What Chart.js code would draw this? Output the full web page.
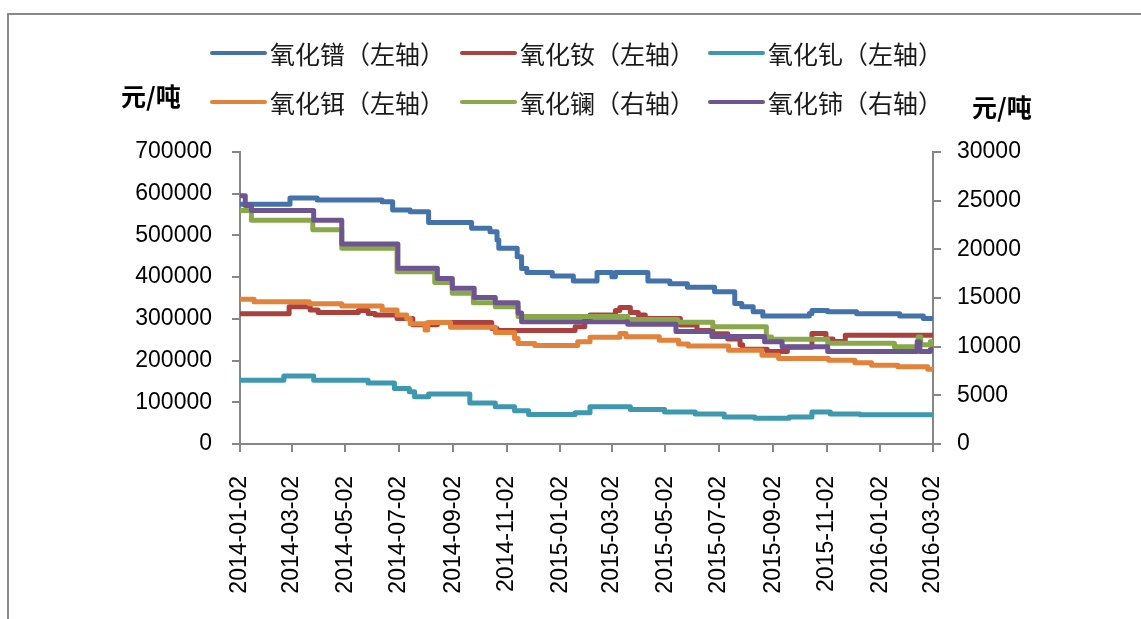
<!DOCTYPE html>
<html>
<head>
<meta charset="utf-8">
<script src="https://cdn.jsdelivr.net/npm/chart.js@4.4.0/dist/chart.umd.min.js"></script>
<style>
  html, body { margin: 0; padding: 0; background: #fff; overflow: hidden; }
  #frame { position: absolute; left: 7px; top: 13px; width: 1200px; height: 700px; border: 2px solid #898989; }
  #wrap { position: absolute; left: 0; top: 0; width: 1141px; height: 619px; }
</style>
</head>
<body>
<div id="frame"></div>
<div id="wrap"><canvas id="chart" width="1141" height="619"></canvas></div>
<script>
// tick labels on the date axis
const xTickLabels = ['2014-01-02', '2014-03-02', '2014-05-02', '2014-07-02', '2014-09-02', '2014-11-02',
  '2015-01-02', '2015-03-02', '2015-05-02', '2015-07-02', '2015-09-02', '2015-11-02', '2016-01-02', '2016-03-02'];

const seriesNames = ['氧化镨（左轴）', '氧化钕（左轴）', '氧化钆（左轴）', '氧化铒（左轴）', '氧化镧（右轴）', '氧化铈（右轴）'];

// price change points (date the price starts, 元/吨)
const prDates = ['2014-01-02', '2014-02-28', '2014-03-31', '2014-06-13', '2014-06-25', '2014-07-15', '2014-08-05',
  '2014-09-23', '2014-10-14', '2014-10-22', '2014-10-24', '2014-11-14', '2014-11-19', '2014-11-25', '2014-12-24',
  '2015-01-17', '2015-02-13', '2015-03-02', '2015-03-06', '2015-04-12', '2015-05-07', '2015-05-27', '2015-06-27',
  '2015-07-20', '2015-07-28', '2015-08-10', '2015-08-21', '2015-10-13', '2015-10-16', '2015-11-03', '2015-12-06',
  '2016-01-24', '2016-02-20'];
const prValues = [575000, 590000, 585000, 581000, 561000, 557000, 531000, 517000, 509000, 489000, 469000, 449000,
  421000, 411000, 403000, 391000, 411000, 401000, 411000, 391000, 384000, 376000, 365000, 337000, 329000, 317000,
  307000, 313000, 320000, 317000, 312000, 307000, 301000];

const ndDates = ['2014-01-02', '2014-02-27', '2014-03-23', '2014-04-01', '2014-05-17', '2014-05-28', '2014-06-05',
  '2014-06-30', '2014-07-18', '2014-08-15', '2014-10-16', '2014-10-22', '2015-01-19', '2015-01-30', '2015-02-05',
  '2015-03-06', '2015-03-11', '2015-03-23', '2015-04-01', '2015-04-09', '2015-05-19', '2015-06-07', '2015-06-25',
  '2015-07-12', '2015-07-26', '2015-07-29', '2015-08-26', '2015-09-18', '2015-10-16', '2015-11-01', '2015-11-09',
  '2015-11-23'];
const ndValues = [312000, 329000, 321000, 315000, 320000, 313000, 309000, 301000, 286000, 291000, 277000, 272000,
  281000, 297000, 309000, 320000, 327000, 315000, 309000, 301000, 285000, 272000, 264000, 252000, 238000, 227000,
  222000, 232000, 265000, 252000, 246000, 261000];

const gdDates = ['2014-01-02', '2014-02-21', '2014-03-27', '2014-05-28', '2014-06-27', '2014-07-14', '2014-07-20',
  '2014-08-05', '2014-09-21', '2014-10-20', '2014-11-11', '2014-11-27', '2015-01-19', '2015-02-05', '2015-03-23',
  '2015-05-01', '2015-06-05', '2015-07-08', '2015-08-12', '2015-09-20', '2015-10-16', '2015-11-06', '2015-12-10'];
const gdValues = [153000, 163000, 153000, 146000, 133000, 125000, 113000, 120000, 98000, 89000, 80000, 71000,
  75000, 89000, 83000, 77000, 72000, 65000, 62000, 65000, 77000, 72000, 70000];

const erDates = ['2014-01-02', '2014-01-18', '2014-03-22', '2014-04-28', '2014-06-13', '2014-06-30', '2014-07-11',
  '2014-07-15', '2014-08-01', '2014-08-04', '2014-08-30', '2014-10-20', '2014-11-11', '2014-11-15', '2014-12-04',
  '2015-01-22', '2015-02-05', '2015-03-11', '2015-03-18', '2015-04-25', '2015-05-17', '2015-05-28', '2015-07-13',
  '2015-08-20', '2015-09-08', '2015-11-04', '2015-12-04', '2015-12-23', '2016-01-22', '2016-02-25'];
const erValues = [347000, 341000, 336000, 331000, 321000, 309000, 301000, 288000, 273000, 291000, 280000, 267000,
  253000, 241000, 236000, 245000, 256000, 265000, 257000, 249000, 240000, 235000, 225000, 213000, 205000, 201000,
  195000, 189000, 185000, 179000];

const laDates = ['2014-01-02', '2014-01-15', '2014-03-26', '2014-04-28', '2014-06-30', '2014-08-12', '2014-09-01',
  '2014-09-25', '2014-10-20', '2014-11-15', '2015-03-20', '2015-05-16', '2015-06-25', '2015-08-25', '2015-08-31',
  '2015-11-03', '2016-01-18', '2016-02-14', '2016-02-17', '2016-02-28'];
const laValues = [24000, 23000, 22000, 20100, 17700, 16600, 15500, 14500, 14100, 13100, 12800, 12500, 12050,
  11000, 10750, 10350, 10000, 11000, 10200, 10500];

const ceDates = ['2014-01-02', '2014-01-08', '2014-01-15', '2014-03-27', '2014-04-28', '2014-07-01', '2014-08-15',
  '2014-09-01', '2014-09-26', '2014-10-20', '2014-11-15', '2014-11-19', '2015-03-20', '2015-05-14', '2015-06-24',
  '2015-08-23', '2015-09-12', '2015-11-03', '2016-02-13', '2016-02-16', '2016-02-28'];
const ceValues = [25500, 24500, 24000, 23000, 20550, 18050, 17000, 16000, 15050, 14500, 13450, 12550, 12300,
  11550, 11050, 10500, 10000, 9500, 10500, 9500, 9700];

const colors = ['#4472aa', '#aa413e', '#3e98b0', '#e3823a', '#88a84a', '#6e5591'];

const startDate = xTickLabels[0];
const endDate = xTickLabels[xTickLabels.length - 1];
const day = s => (Date.parse(s) - Date.parse(startDate)) / 86400000;

function steps(dates, values) {
  const pts = dates.map((d, i) => ({ x: day(d), y: values[i] }));
  pts.push({ x: day(endDate), y: values[values.length - 1] });
  return pts;
}

const seriesData = [
  [prDates, prValues, 'y'],
  [ndDates, ndValues, 'y'],
  [gdDates, gdValues, 'y'],
  [erDates, erValues, 'y'],
  [laDates, laValues, 'y1'],
  [ceDates, ceValues, 'y1']
];

const axisGray = '#868686';
const numFont = { family: '"Liberation Sans", Arial, sans-serif', size: 23 };

// legend in two rows of three plus the two unit titles
const decorations = {
  id: 'decorations',
  afterDraw(chart) {
    const ctx = chart.ctx;
    const cols = [212, 462, 710];
    const rows = [53, 102];
    ctx.save();
    ctx.textBaseline = 'middle';
    ctx.font = '25px "Noto Sans CJK SC"';
    seriesNames.forEach((name, i) => {
      const x = cols[i % 3], y = rows[Math.floor(i / 3)];
      ctx.strokeStyle = colors[i];
      ctx.lineWidth = 4;
      ctx.lineCap = 'round';
      ctx.beginPath();
      ctx.moveTo(x, y);
      ctx.lineTo(x + 53, y);
      ctx.stroke();
      ctx.fillStyle = '#1a1a1a';
      ctx.fillText(name, x + 58, y + 1);
    });
    ctx.fillStyle = '#000';
    ctx.font = 'bold 25px "Noto Sans CJK SC"';
    ctx.fillText('元/吨', 121, 96);
    ctx.fillText('元/吨', 972, 107);
    ctx.restore();
  }
};

new Chart(document.getElementById('chart'), {
  type: 'line',
  data: {
    datasets: seriesData.map(([d, v, axis], i) => ({
      label: seriesNames[i],
      data: steps(d, v),
      yAxisID: axis,
      borderColor: colors[i],
      backgroundColor: colors[i],
      borderWidth: 5,
      borderJoinStyle: 'round',
      borderCapStyle: 'round',
      stepped: 'before',
      pointRadius: 0,
      order: seriesData.length - i
    }))
  },
  options: {
    responsive: false,
    animation: false,
    layout: { padding: { top: 152, left: 0, right: 0, bottom: 0 } },
    plugins: {
      legend: { display: false },
      tooltip: { enabled: false }
    },
    scales: {
      x: {
        type: 'linear',
        min: 0,
        max: day(endDate),
        afterBuildTicks: scale => { scale.ticks = xTickLabels.map(s => ({ value: day(s) })); },
        afterFit: scale => { scale.height = 175; },
        border: { color: axisGray, width: 2 },
        grid: { drawOnChartArea: false, color: axisGray, lineWidth: 2, tickLength: 8 },
        ticks: {
          autoSkip: false, maxRotation: 90, minRotation: 90, padding: 24,
          color: '#000', font: numFont,
          callback: (v, i) => xTickLabels[i]
        }
      },
      y: {
        position: 'left',
        min: 0, max: 700000,
        afterFit: scale => { scale.width = 240; },
        border: { color: axisGray, width: 2 },
        grid: { drawOnChartArea: false, color: axisGray, lineWidth: 2, tickLength: 8 },
        ticks: { stepSize: 100000, padding: 20, color: '#000', font: numFont, callback: v => String(v) }
      },
      y1: {
        position: 'right',
        min: 0, max: 30000,
        afterFit: scale => { scale.width = 208; },
        border: { color: axisGray, width: 2 },
        grid: { drawOnChartArea: false, color: axisGray, lineWidth: 2, tickLength: 8 },
        ticks: { stepSize: 5000, padding: 16, color: '#000', font: numFont, callback: v => String(v) }
      }
    }
  },
  plugins: [decorations]
});
</script>
</body>
</html>
